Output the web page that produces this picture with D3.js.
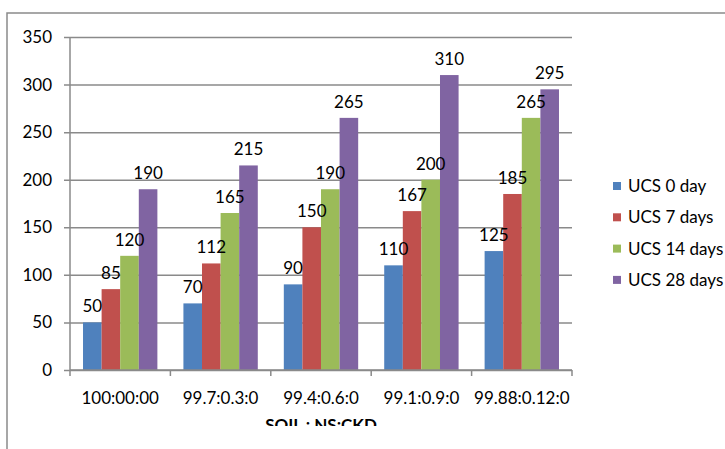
<!DOCTYPE html>
<html><head><meta charset="utf-8">
<script src="https://cdn.jsdelivr.net/npm/d3@7"></script>
<style>body{margin:0;background:#fff}svg{display:block}text{font-family:Lato,"Open Sans",sans-serif;fill:#000}</style>
</head><body><svg id="c" width="725" height="449"></svg>
<script>
const categories = ["100:00:00","99.7:0.3:0","99.4:0.6:0","99.1:0.9:0","99.88:0.12:0"];
const seriesNames = ["UCS 0 day","UCS 7 days","UCS 14 days","UCS 28 days"];
const ucs0 = [50,70,90,110,125];
const ucs7 = [85,112,150,167,185];
const ucs14 = [120,165,190,200,265];
const ucs28 = [190,215,265,310,295];
const yTicks = [0,50,100,150,200,250,300,350];
const colors = ["#4F81BD","#C0504D","#9BBB59","#8064A2"];
const xTitle = "SOIL : NS:CKD";

const series = [ucs0, ucs7, ucs14, ucs28];
const svg = d3.select("#c");
const L=70, R=572, T=37, B=370;

svg.append("rect").attr("x",7).attr("y",13).attr("width",760).attr("height",480)
  .attr("fill","none").attr("stroke","#8a8a8a").attr("stroke-width",1.5);

const x0 = d3.scaleBand().domain(categories).range([L,R]).padding(0);
const x1 = d3.scaleBand().domain(d3.range(series.length)).range([0,x0.bandwidth()]).paddingOuter(0.7).paddingInner(0);
const y = d3.scaleLinear().domain([0,350]).range([B,T]);

// gridlines + y axis
const yAxis = d3.axisLeft(y).tickValues(yTicks).tickSize(-(R-L)).tickSizeOuter(0).tickPadding(18);
const gy = svg.append("g").attr("transform",`translate(${L},0)`).call(yAxis);
gy.select(".domain").remove();
gy.selectAll(".tick line").attr("stroke","#8a8a8a").attr("stroke-width",1.5).attr("x1",-6);
gy.selectAll(".tick text").attr("font-size",17).attr("font-family","Lato");
svg.append("line").attr("x1",L).attr("x2",L).attr("y1",T).attr("y2",B).attr("stroke","#8a8a8a").attr("stroke-width",1.5);

// bars
const g = svg.append("g");
categories.forEach((c,i)=>{
  series.forEach((s,j)=>{
    const xx = x0(c)+x1(j);
    g.append("rect").attr("x",xx).attr("y",y(s[i])).attr("width",x1.bandwidth()).attr("height",B-y(s[i])).attr("fill",colors[j]);
  });
});
// labels
categories.forEach((c,i)=>{
  series.forEach((s,j)=>{
    const xx = x0(c)+x1(j)+x1.bandwidth()/2;
    g.append("text").attr("x",xx).attr("y",y(s[i])-10).attr("text-anchor","middle").attr("font-size",17).text(s[i]);
  });
});

// x axis
const xAxis = d3.axisBottom(x0).tickSize(0).tickPadding(22);
const gx = svg.append("g").attr("transform",`translate(0,${B})`).call(xAxis);
gx.select(".domain").attr("stroke","#8a8a8a").attr("stroke-width",1.5).attr("d",`M${L},0H${R}`);
gx.selectAll(".tick text").attr("font-size",17).attr("font-family","Lato");
const bounds = categories.map(c=>x0(c)).concat([R]);
svg.append("g").selectAll("line").data(bounds).join("line")
  .attr("x1",d=>d).attr("x2",d=>d).attr("y1",B).attr("y2",B+6).attr("stroke","#8a8a8a").attr("stroke-width",1.5);

// x title (clipped like reference)
svg.append("clipPath").attr("id","tc").append("rect").attr("x",0).attr("y",0).attr("width",725).attr("height",426);
svg.append("text").attr("x",(L+R)/2).attr("y",431).attr("text-anchor","middle").attr("font-size",17).attr("font-weight","bold")
  .attr("clip-path","url(#tc)").text(xTitle);

// legend
const lg = svg.append("g").attr("transform","translate(613,182)");
seriesNames.forEach((n,j)=>{
  const r = lg.append("g").attr("transform",`translate(0,${j*31.3})`);
  r.append("rect").attr("width",8).attr("height",8).attr("fill",colors[j]);
  r.append("text").attr("x",15).attr("y",10).attr("font-size",17).text(n);
});
</script></body></html>
